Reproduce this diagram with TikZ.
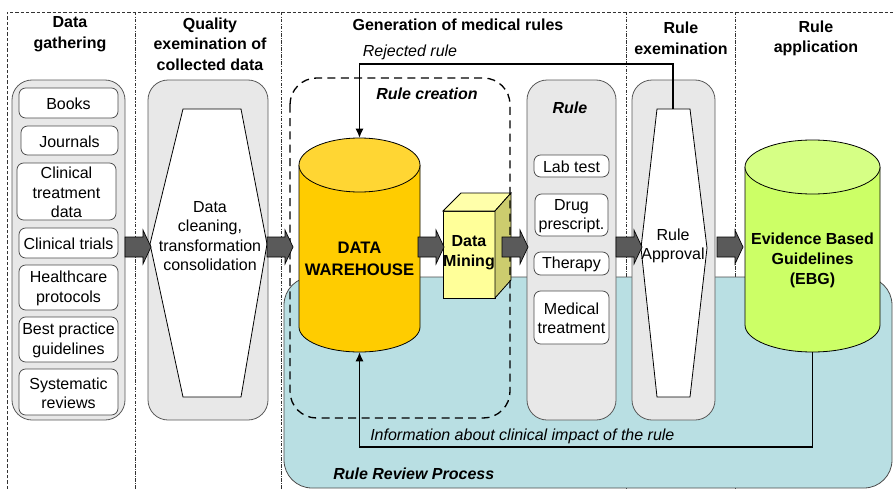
\documentclass[tikz,border=0pt]{standalone}
\usepackage{fontspec}
\setmainfont{Liberation Sans}
\usetikzlibrary{arrows.meta}

\definecolor{panelgray}{RGB}{232,232,232}
\definecolor{reviewblue}{RGB}{185,223,227}
\definecolor{dwbody}{RGB}{255,204,0}
\definecolor{dwlid}{RGB}{255,214,51}
\definecolor{ebgbody}{RGB}{204,255,102}
\definecolor{ebglid}{RGB}{214,255,133}
\definecolor{minefront}{RGB}{255,255,153}
\definecolor{minetop}{RGB}{255,255,170}
\definecolor{mineside}{RGB}{204,204,110}
\definecolor{arrowgray}{RGB}{90,90,90}

\begin{document}
\begin{tikzpicture}[x=0.75pt,y=0.75pt,yscale=-1,xscale=1,
    panel/.style={draw=black!65, line width=0.6pt, fill=panelgray, rounded corners=15pt},
    itembox/.style={draw=black!70, line width=0.6pt, fill=white, rounded corners=5pt},
    funnel/.style={draw=black, line width=0.6pt, fill=white},
    blockarrow/.style={draw=black, line width=0.5pt, fill=arrowgray},
    txt/.style={inner sep=0.75pt, align=center, font=\fontsize{12}{14.5}\selectfont},
    head/.style={inner sep=0.75pt, align=center, font=\fontsize{12}{15.5}\selectfont\bfseries},
    conn/.style={line width=1.2pt, -{Latex[length=7pt,width=6pt]}}
  ]
    \useasboundingbox (0,0) rectangle (893,489);

    %Frame lines
    \draw [black!80, line width=0.6pt, dash pattern={on 2.5pt off 1.5pt}] (7,489) -- (7,12) -- (893,12) ;
    \foreach \sx in {135,281,626,735}
      \draw [black!80, line width=0.6pt, dash pattern={on 2.5pt off 1pt on 0.8pt off 1pt}] (\sx,12) -- (\sx,489) ;

    %Shape: Rounded Rect (review process)
    \draw [draw=black!70, line width=0.6pt, fill=reviewblue, rounded corners=21pt] (284,277) rectangle (892,488) ;

    %Shape: Panels
    \draw [panel] (12,80) rectangle (125,420) ;
    \draw [panel] (148,80) rectangle (268,420) ;
    \draw [panel] (527,80) rectangle (616,420) ;
    \draw [panel] (632,80) rectangle (715,420) ;

    %Shape: Item boxes
    \draw [itembox] (19,88) rectangle (118,118) ;
    \draw [itembox] (21,126) rectangle (118,155) ;
    \draw [itembox] (17,163) rectangle (116,220) ;
    \draw [itembox] (19,228) rectangle (118,258) ;
    \draw [itembox] (19,265) rectangle (118,310) ;
    \draw [itembox] (19,317) rectangle (118,362) ;
    \draw [itembox] (19,369) rectangle (118,415) ;
    \draw [itembox] (534,155) rectangle (609,177) ;
    \draw [itembox] (535,194) rectangle (608,236) ;
    \draw [itembox] (534,252) rectangle (609,275) ;
    \draw [itembox] (534,291) rectangle (609,344) ;

    %Shape: Funnels
    \draw [funnel] (183,109) -- (241,109) -- (267,244) -- (241,397) -- (183,397) -- (150,244) -- cycle ;
    \draw [funnel] (657,109) -- (690,109) -- (707,248) -- (690,397) -- (657,397) -- (641,248) -- cycle ;

    %Shape: Can (data warehouse)
    \draw [fill=dwbody, line width=0.6pt] (420,165) -- (420,327) arc [start angle=0, end angle=180, x radius=60.5, y radius=25] -- (299,165) ;
    \draw [fill=dwlid, line width=0.6pt] (359.5,165) ellipse [x radius=60.5, y radius=27] ;

    %Shape: Can (guidelines)
    \draw [fill=ebgbody, line width=0.6pt] (880,167) -- (880,325) arc [start angle=0, end angle=180, x radius=67.5, y radius=27] -- (745,167) ;
    \draw [fill=ebglid, line width=0.6pt] (812.5,167) ellipse [x radius=67.5, y radius=27] ;

    %Shape: Cube (data mining)
    \draw [fill=minefront, line width=0.6pt] (443,211) rectangle (495,298) ;
    \draw [fill=minetop, line width=0.6pt] (443,211) -- (461,193) -- (511,193) -- (495,211) -- cycle ;
    \draw [fill=mineside, line width=0.6pt] (495,211) -- (511,193) -- (511,280) -- (495,298) -- cycle ;

    %Shape: Rounded Rect dashed (rule creation)
    \draw [line width=1pt, dash pattern={on 6pt off 4pt}, rounded corners=20pt] (290,78) rectangle (510,418) ;

    %Block arrows
    \foreach \ax in {125,267,418,502,616,717}
      \draw [blockarrow] (\ax,237) -- (\ax+18,237) -- (\ax+18,230) -- (\ax+26,247) -- (\ax+18,264) -- (\ax+18,257) -- (\ax,257) -- cycle ;

    % Text Node
    \node [head] (hgather) at (70,34.5) {Data\\gathering};
    \node [head] (hquality) at (210,44) {Quality\\exemination of\\collected data};
    \node [head] (hgen) at (458,25) {Generation of medical rules};
    \node [head] (hexam) at (681,38.5) {Rule\\exemination};
    \node [head] (happly) at (816,38.5) {Rule\\application};
    \node [txt, font=\fontsize{12}{14.5}\selectfont\itshape] (rejlbl) at (410,52) {Rejected rule};
    \node [head, font=\fontsize{12}{15}\selectfont\bfseries\itshape] (creation) at (427,94) {Rule creation};
    \node [head, font=\fontsize{12}{15}\selectfont\bfseries\itshape] (rulelbl) at (570,108) {Rule};

    % Text Node
    \node [txt] (books) at (68.5,104) {Books};
    \node [txt] (journals) at (69.5,141.5) {Journals};
    \node [txt] (treatdata) at (66.5,192.5) {Clinical\\treatment\\data};
    \node [txt] (trials) at (68.5,244) {Clinical trials};
    \node [txt] (protocols) at (68.5,288.5) {Healthcare\\protocols};
    \node [txt] (bestprac) at (68.5,340.5) {Best practice\\guidelines};
    \node [txt] (reviews) at (68.5,393) {Systematic\\reviews};
    \node [txt] (cleaning) at (210,236) {Data\\cleaning,\\transformation\\consolidation};
    \node [txt] (labtest) at (571.5,167) {Lab test};
    \node [txt] (drug) at (571.5,216) {Drug\\prescript.};
    \node [txt] (therapy) at (571.5,264.5) {Therapy};
    \node [txt] (medtreat) at (571.5,318.5) {Medical\\treatment};
    \node [txt] (approval) at (673,246) {Rule\\Approval};

    % Text Node
    \node [head, font=\fontsize{12.5}{16}\selectfont\bfseries] (dw) at (359.5,259) {DATA\\WAREHOUSE};
    \node [head, font=\fontsize{12}{15}\selectfont\bfseries] (mining) at (469,253) {Data\\Mining};
    \node [head, font=\fontsize{12}{15}\selectfont\bfseries] (ebg) at (812.5,260) {Evidence Based\\Guidelines\\(EBG)};
    \node [txt, font=\fontsize{12}{14.5}\selectfont\itshape, anchor=west] (infolbl) at (369,436) {Information about clinical impact of the rule};
    \node [head, font=\fontsize{12}{15}\selectfont\bfseries\itshape, anchor=west] (reviewlbl) at (332,474) {Rule Review Process};

    %Connectors
    \coordinate (apptop) at (673,109);
    \coordinate (dwtop) at (359.5,138);
    \coordinate (dwbot) at (359.5,352);
    \coordinate (ebgbot) at (812.5,352);
    \draw [conn] (apptop) -- (673,64) -| (dwtop) ;
    \draw [conn] (ebgbot) -- (812.5,447) -| (dwbot) ;

\end{tikzpicture}
\end{document}
